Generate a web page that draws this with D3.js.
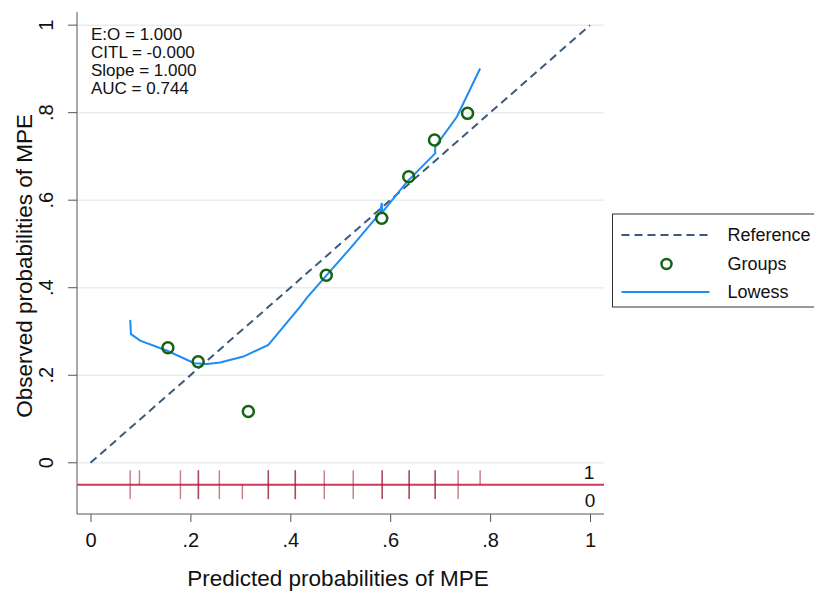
<!DOCTYPE html>
<html>
<head>
<meta charset="utf-8">
<script src="https://cdn.jsdelivr.net/npm/d3@7"></script>
<style>
  body { margin: 0; background: #fff; }
  text { font-family: "Liberation Sans", Arial, sans-serif; fill: #111; }
</style>
</head>
<body>
<svg id="chart" width="814" height="591"></svg>
<script>
// calibration groups (predicted vs observed)
const groupX = [0.155, 0.2156, 0.316, 0.472, 0.583, 0.637, 0.6887, 0.7548];
const groupY = [0.263, 0.231, 0.117, 0.4285, 0.5587, 0.6537, 0.7374, 0.7984];

// lowess smoother
const lowessX = [0.0795, 0.081, 0.0995, 0.1536, 0.208, 0.233, 0.2597, 0.306, 0.356, 0.4198, 0.433, 0.523, 0.580, 0.583, 0.584, 0.6334, 0.690, 0.690, 0.7335, 0.780];
const lowessY = [0.3265, 0.294, 0.279, 0.256, 0.2276, 0.226, 0.229, 0.2427, 0.2694, 0.357, 0.377, 0.494, 0.571, 0.594, 0.572, 0.642, 0.707, 0.722, 0.7906, 0.901];

// rug of predicted risks by outcome (repeats = more observations)
const rugOne = [0.0795, 0.098, 0.180, 0.216, 0.216, 0.258, 0.356, 0.356, 0.410, 0.410, 0.468, 0.526, 0.584, 0.584, 0.638, 0.638, 0.690, 0.690, 0.736, 0.780];
const rugZero = [0.0795, 0.180, 0.216, 0.216, 0.258, 0.304, 0.356, 0.356, 0.410, 0.410, 0.468, 0.526, 0.584, 0.584, 0.638, 0.638, 0.690, 0.690, 0.736];

const tickValues = [0, 0.2, 0.4, 0.6, 0.8, 1];
const tickLabels = ["0", ".2", ".4", ".6", ".8", "1"];
const statsText = ["E:O = 1.000", "CITL = -0.000", "Slope = 1.000", "AUC = 0.744"];
const legendLabels = ["Reference", "Groups", "Lowess"];

const refColor = "#3d5a7c";
const groupColor = "#146414";
const lowessColor = "#1e8cf5";
const rugColor = "#9a1c34";
const gridColor = "#e6eef0";
const axisColor = "#555";

const svg = d3.select("#chart");
const box = { left: 77, right: 604, top: 12, bottom: 514 };

const x = d3.scaleLinear().domain([-0.027, 1.028]).range([box.left, box.right]);
const y = d3.scaleLinear().domain([-0.117, 1.03]).range([box.bottom, box.top]);

// grid
svg.append("g")
  .selectAll("line")
  .data(tickValues)
  .enter()
  .append("line")
  .attr("x1", box.left)
  .attr("x2", box.right)
  .attr("y1", (d) => y(d))
  .attr("y2", (d) => y(d))
  .attr("stroke", gridColor)
  .attr("stroke-width", 1.5);

// axes
const yAxis = d3.axisLeft(y).tickValues(tickValues).tickFormat((d, i) => tickLabels[i]).tickSize(9).tickSizeOuter(0);
const xAxis = d3.axisBottom(x).tickValues(tickValues).tickFormat((d, i) => tickLabels[i]).tickSize(8).tickSizeOuter(0);

const gy = svg.append("g").attr("transform", `translate(${box.left},0)`).call(yAxis);
gy.select(".domain").attr("d", `M0,${box.top}V${box.bottom}`);
gy.selectAll("text")
  .attr("font-size", 20)
  .attr("x", null)
  .attr("dy", null)
  .attr("text-anchor", "middle")
  .attr("transform", (d) => `translate(-24,${y(d)}) rotate(-90)`)
  .attr("y", 0);
gy.selectAll(".tick").attr("transform", null);
gy.selectAll(".tick line").attr("y1", (d) => y(d)).attr("y2", (d) => y(d));

const gx = svg.append("g").attr("transform", `translate(0,${box.bottom})`).call(xAxis);
gx.select(".domain").attr("d", `M${box.left},0H${box.right}`);
gx.selectAll("text").attr("font-size", 20).attr("dy", null).attr("y", 33);

svg.selectAll(".domain, .tick line").attr("stroke", axisColor);

// axis titles
svg.append("text")
  .attr("x", 338)
  .attr("y", 586)
  .attr("text-anchor", "middle")
  .attr("font-size", 22.5)
  .text("Predicted probabilities of MPE");

svg.append("text")
  .attr("transform", `translate(32,${y(0.45)}) rotate(-90)`)
  .attr("text-anchor", "middle")
  .attr("font-size", 22.5)
  .text("Observed probabilities of MPE");

// rug
const rugBase = -0.05;
svg.append("line")
  .attr("x1", box.left)
  .attr("x2", box.right)
  .attr("y1", y(rugBase))
  .attr("y2", y(rugBase))
  .attr("stroke", "#d0395a")
  .attr("stroke-width", 2);

svg.append("g")
  .selectAll("line")
  .data(rugOne)
  .enter()
  .append("line")
  .attr("x1", (d) => x(d))
  .attr("x2", (d) => x(d))
  .attr("y1", y(rugBase))
  .attr("y2", y(rugBase + 0.033))
  .attr("stroke", rugColor)
  .attr("stroke-opacity", 0.55)
  .attr("stroke-width", 1.5);

svg.append("g")
  .selectAll("line")
  .data(rugZero)
  .enter()
  .append("line")
  .attr("x1", (d) => x(d))
  .attr("x2", (d) => x(d))
  .attr("y1", y(rugBase))
  .attr("y2", y(rugBase - 0.033))
  .attr("stroke", rugColor)
  .attr("stroke-opacity", 0.55)
  .attr("stroke-width", 1.5);

svg.append("text").attr("x", x(1) - 1).attr("y", 479).attr("text-anchor", "middle").attr("font-size", 19).text("1");
svg.append("text").attr("x", x(1)).attr("y", 507).attr("text-anchor", "middle").attr("font-size", 19).text("0");

// reference line
svg.append("line")
  .attr("x1", x(0))
  .attr("y1", y(0))
  .attr("x2", x(1))
  .attr("y2", y(1))
  .attr("stroke", refColor)
  .attr("stroke-width", 2)
  .attr("stroke-dasharray", "8,5");

// lowess
const lowessLine = d3.line().x((d) => x(d[0])).y((d) => y(d[1]));
svg.append("path")
  .attr("d", lowessLine(d3.zip(lowessX, lowessY)))
  .attr("fill", "none")
  .attr("stroke", lowessColor)
  .attr("stroke-width", 2);

// groups
svg.append("g")
  .selectAll("circle")
  .data(d3.zip(groupX, groupY))
  .enter()
  .append("circle")
  .attr("cx", (d) => x(d[0]))
  .attr("cy", (d) => y(d[1]))
  .attr("r", 5.5)
  .attr("fill", "none")
  .attr("stroke", groupColor)
  .attr("stroke-width", 2.5);

// stats text
svg.append("g")
  .selectAll("text")
  .data(statsText)
  .enter()
  .append("text")
  .attr("x", 91)
  .attr("y", (d, i) => 40 + i * 18)
  .attr("font-size", 17)
  .text((d) => d);

// legend
const lg = svg.append("g").attr("transform", "translate(612.5,214)");
lg.append("rect").attr("width", 230).attr("height", 93).attr("fill", "#fff").attr("stroke", "#333").attr("stroke-width", 1);
lg.append("line").attr("x1", 9).attr("x2", 97).attr("y1", 21).attr("y2", 21)
  .attr("stroke", refColor).attr("stroke-width", 2).attr("stroke-dasharray", "8,5");
lg.append("circle").attr("cx", 54).attr("cy", 50).attr("r", 5).attr("fill", "none")
  .attr("stroke", groupColor).attr("stroke-width", 2.5);
lg.append("line").attr("x1", 9).attr("x2", 97).attr("y1", 78).attr("y2", 78)
  .attr("stroke", lowessColor).attr("stroke-width", 2);
lg.selectAll("text.lab")
  .data(legendLabels)
  .enter()
  .append("text")
  .attr("class", "lab")
  .attr("x", 115)
  .attr("y", (d, i) => 27 + i * 28.5)
  .attr("font-size", 18)
  .text((d) => d);
</script>
</body>
</html>
